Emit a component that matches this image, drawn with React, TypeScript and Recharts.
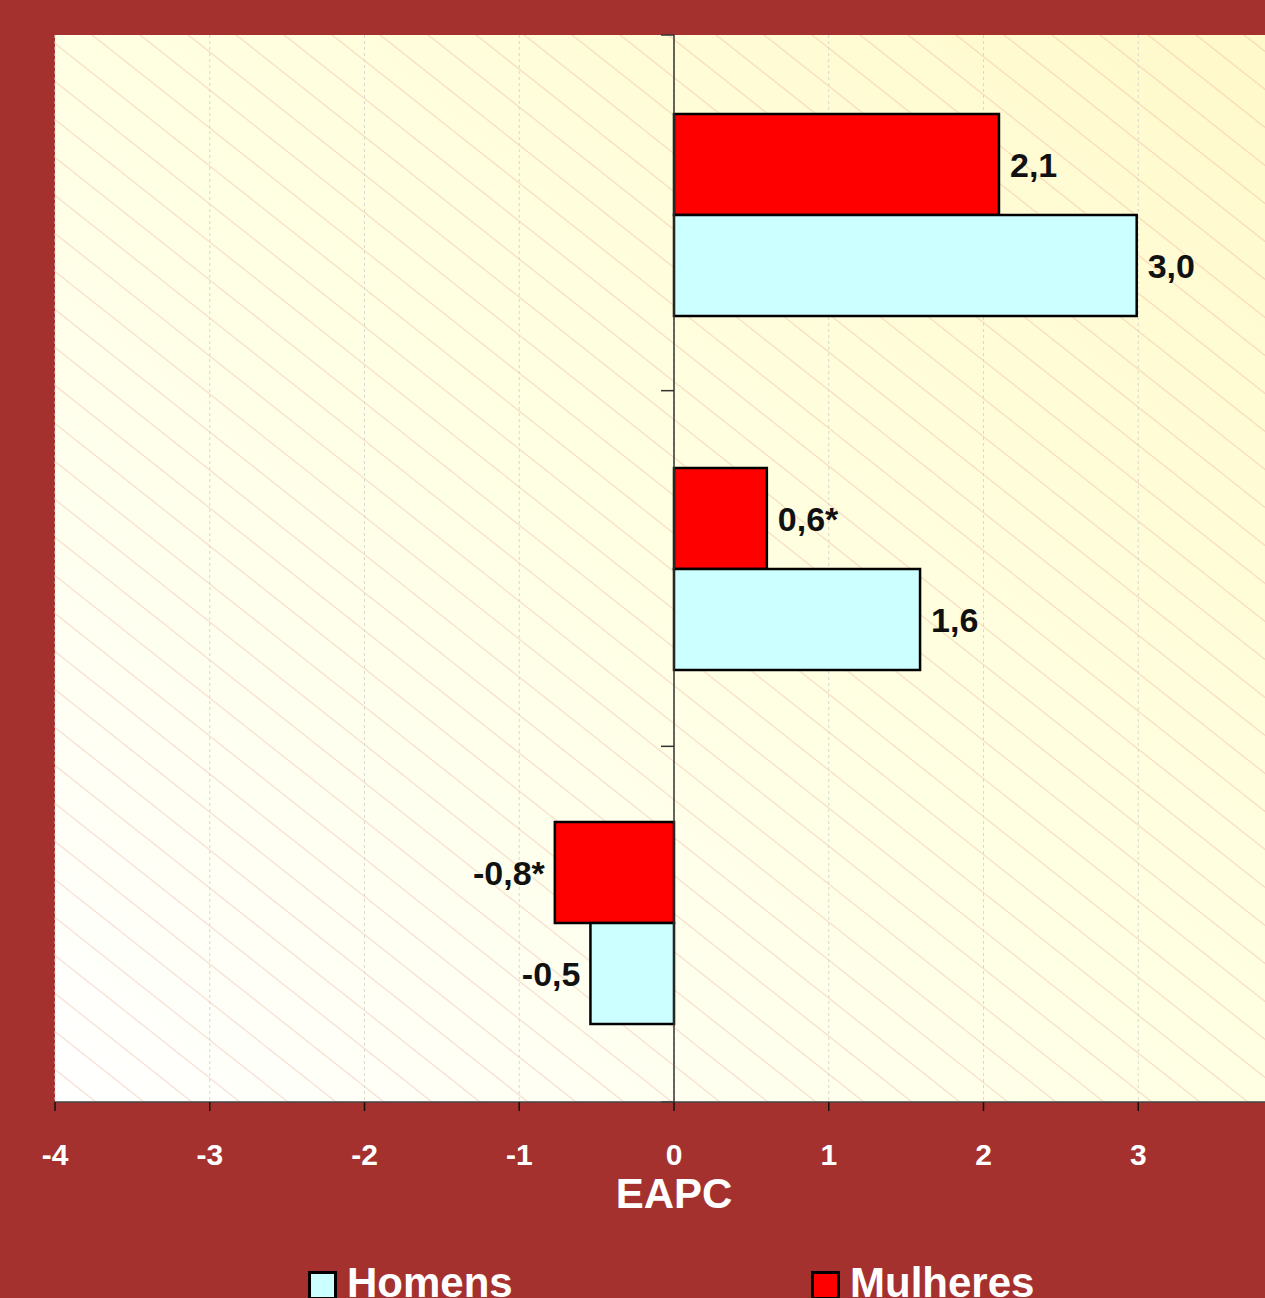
import React from 'react';
import { BarChart, Bar, XAxis, YAxis, CartesianGrid, ReferenceLine, LabelList } from 'recharts';

const categories = ['Grupo 1', 'Grupo 2', 'Grupo 3'];
const mulheres = [2.1, 0.6, -0.77];
const homens = [2.99, 1.59, -0.54];
const mulheresLabels = ['2,1', '0,6*', '-0,8*'];
const homensLabels = ['3,0', '1,6', '-0,5'];
const xTicks = [-4, -3, -2, -1, 0, 1, 2, 3];
const seriesNames = ['Homens', 'Mulheres'];
const seriesColors = ['#CCFFFF', '#FF0000'];
const axisTitle = 'EAPC';

const data = categories.map((c, i) => ({
  name: c,
  Mulheres: mulheres[i],
  Homens: homens[i],
  mLabel: mulheresLabels[i],
  hLabel: homensLabels[i],
}));

const FONT = '"Liberation Sans", Arial, Helvetica, sans-serif';
const BG = '#A5312F';

const makeLabel = (values: number[]) => (props: any) => {
  const { x, y, width, height, value, index } = props;
  if (x == null) return null;
  const left = Math.min(x, x + width);
  const right = Math.max(x, x + width);
  const neg = values[index] < 0;
  return (
    <text
      x={neg ? left - 10 : right + 11}
      y={y + height / 2}
      dy="0.36em"
      textAnchor={neg ? 'end' : 'start'}
      fontFamily={FONT}
      fontWeight="bold"
      fontSize={34}
      fill="#111"
    >
      {value}
    </text>
  );
};

const ZeroAxis = (props: any) => {
  const { x1, y1, x2, y2 } = props;
  if (x1 == null || y1 == null) return null;
  const n = categories.length;
  const top = Math.min(y1, y2);
  const bottom = Math.max(y1, y2);
  const ticks = [];
  for (let k = 0; k <= n; k++) {
    const y = top + ((bottom - top) * k) / n;
    ticks.push(<line key={k} x1={x1 - 13} x2={x1} y1={y} y2={y} stroke="#333" strokeWidth={1.5} />);
  }
  return (
    <g>
      <line x1={x1} y1={top} x2={x2} y2={bottom} stroke="#333" strokeWidth={1.5} />
      {ticks}
    </g>
  );
};

const EapcLabel = (props: any) => {
  const vb = props.viewBox || {};
  const cx = (vb.x ?? 0) + (vb.width ?? 0) / 2;
  return (
    <text x={cx} y={(vb.y ?? 0) + 106} textAnchor="middle" fontFamily={FONT} fontWeight="bold" fontSize={42} fill="#fff">
      {axisTitle}
    </text>
  );
};

const LegendItem = ({ name, color, left }: { name: string; color: string; left: number }) => (
  <div style={{ position: 'absolute', left, top: 0, display: 'flex', alignItems: 'flex-start' }}>
    <div
      style={{
        width: 23,
        height: 23,
        border: '3px solid #000',
        background: color,
        marginTop: 9,
        marginRight: 10,
      }}
    />
    <span style={{ color: '#fff', fontFamily: FONT, fontWeight: 'bold', fontSize: 42, lineHeight: '42px' }}>{name}</span>
  </div>
);

export default function App() {
  return (
    <div
      style={{
        position: 'absolute',
        left: 0,
        top: 0,
        width: 1265,
        height: 1298,
        overflow: 'hidden',
        background: BG,
      }}
    >
      <svg width={0} height={0} style={{ position: 'absolute' }}>
        <defs>
          <linearGradient id="bgGrad" x1="0" y1="1" x2="1" y2="0">
            <stop offset="0%" stopColor="#FFFFFF" />
            <stop offset="50%" stopColor="#FFFFE3" />
            <stop offset="100%" stopColor="#FFF9CA" />
          </linearGradient>
          <pattern id="hatch" patternUnits="userSpaceOnUse" width={48} height={38}>
            <line x1={-4} y1={-3.17} x2={52} y2={41.17} stroke="rgba(222,140,110,0.28)" strokeWidth={1.3} />
            <line x1={-52} y1={-3.17} x2={4} y2={41.17} stroke="rgba(222,140,110,0.28)" strokeWidth={1.3} />
            <line x1={44} y1={-3.17} x2={100} y2={41.17} stroke="rgba(222,140,110,0.28)" strokeWidth={1.3} />
          </pattern>
        </defs>
      </svg>
      <BarChart
        width={1340}
        height={1298}
        layout="vertical"
        data={data}
        margin={{ top: 35, right: 47, bottom: 0, left: 55 }}
        barGap={0}
        barSize={101}
      >
        <CartesianGrid fill="url(#bgGrad)" horizontal={false} vertical={false} stroke="none" />
        <CartesianGrid
          fill="url(#hatch)"
          horizontal={false}
          vertical={true}
          stroke="#D9D9D0"
          strokeDasharray="3 3"
        />
        <XAxis
          type="number"
          domain={[-4, 4]}
          ticks={xTicks}
          allowDataOverflow
          height={196}
          tickSize={9}
          tickMargin={33}
          stroke="#444"
          strokeWidth={1.5}
          tickLine={{ stroke: '#111', strokeWidth: 1.5 }}
          tick={{ fill: '#fff', fontFamily: FONT, fontWeight: 'bold', fontSize: 30 }}
          label={EapcLabel}
        />
        <YAxis type="category" dataKey="name" hide padding={{ top: 3, bottom: 2 }} />
        <Bar dataKey="Mulheres" fill={seriesColors[1]} stroke="#000" strokeWidth={2.5} isAnimationActive={false}>
          <LabelList dataKey="mLabel" content={makeLabel(mulheres)} />
        </Bar>
        <Bar dataKey="Homens" fill={seriesColors[0]} stroke="#000" strokeWidth={2.5} isAnimationActive={false}>
          <LabelList dataKey="hLabel" content={makeLabel(homens)} />
        </Bar>
        <ReferenceLine x={0} shape={ZeroAxis} />
      </BarChart>
      <div style={{ position: 'absolute', left: 0, top: 1262, width: 1265, height: 60 }}>
        <LegendItem name={seriesNames[0]} color={seriesColors[0]} left={308} />
        <LegendItem name={seriesNames[1]} color={seriesColors[1]} left={811} />
      </div>
    </div>
  );
}
